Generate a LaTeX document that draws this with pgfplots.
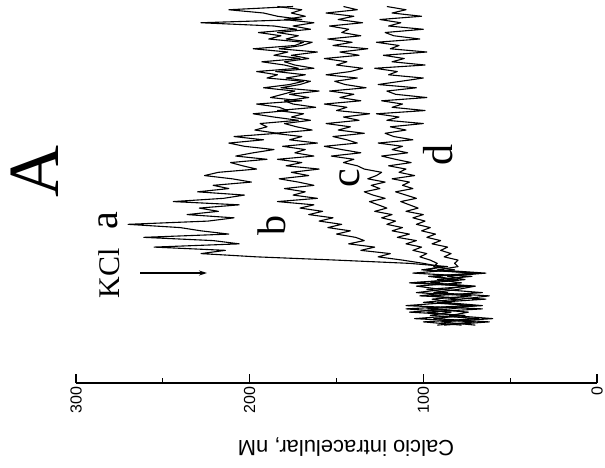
\documentclass[border=0pt]{standalone}
\usepackage{fontspec}
\setmainfont{Liberation Serif}
\setsansfont{Liberation Sans}
\usepackage{pgfplots}
\usepackage{pgfplotstable}
\pgfplotsset{compat=1.18}
\usetikzlibrary{arrows.meta}

\pgfplotstableread{
t a b c d
0 92 78 88 70
1 70 100 62 90
2 105 68 94 60
3 80 96 76 84
4 98 84 108 74
5 66 110 84 98
6 110 74 70 66
7 84 92 100 88
8 95 64 80 78
9 72 102 96 62
10 104 86 66 94
11 88 98 90 80
12 76 72 104 70
13 108 106 78 96
14 82 80 92 76
15 97 94 72 86
16 70 68 106 64
17 101 99 82 92
18 86 90 94 80
19 108 100 92 82
20 150 112 96 80
21 196 126 102 88
22 228 119 98 84
23 214 136 106 90
24 255 128 101 86
25 206 143 110 95
26 221 134 104 90
27 261 139 115 98
28 212 150 108 93
29 228 142 118 101
30 240 155 112 96
31 270 147 121 104
32 224 160 116 99
33 209 152 124 106
34 236 166 118 100
35 218 158 128 110
36 229 171 121 103
37 206 163 126 108
38 244 184 131 113
39 215 161 122 104
40 203 175 129 110
41 230 168 134 116
42 212 180 125 106
43 221 163 130 112
44 199 172 122 108
45 210 183 132 118
46 226 166 127 105
47 218 176 124 114
48 196 160 134 110
49 204 179 138 120
50 211 170 146 107
51 190 184 140 116
52 208 163 153 124
53 198 174 136 109
54 186 168 147 118
55 203 181 157 112
56 212 161 138 126
57 192 177 144 106
58 209 170 152 117
59 184 186 134 122
60 197 164 149 110
61 190 173 142 119
62 194 180 156 100
63 172 165 137 121
64 186 176 146 114
65 198 169 131 127
66 178 184 150 99
67 183 162 144 118
68 196 175 157 112
69 170 180 136 124
70 188 166 148 98
71 181 177 140 116
72 174 160 154 121
73 192 182 133 104
74 177 171 145 126
75 169 165 151 113
76 190 179 138 100
77 184 168 156 120
78 196 185 142 115
79 172 163 135 128
80 180 174 150 99
81 193 180 144 118
82 171 166 157 111
83 186 176 137 123
84 178 161 148 98
85 198 183 132 119
86 174 170 152 114
87 169 164 141 127
88 189 179 155 102
89 182 172 136 117
90 195 184 147 122
91 173 165 143 100
92 186 175 154 120
93 228 163 135 113
94 170 180 149 125
95 184 168 140 101
96 192 176 156 118
97 212 170 138 110
98 175 184 146 121
}\data

\begin{document}
\begin{tikzpicture}
\useasboundingbox (0,0) rectangle (605pt,467pt);
\begin{axis}[
  at={(76pt,84pt)}, anchor=south west,
  scale only axis, width=521pt, height=383pt,
  xmin=0, xmax=300, x dir=reverse,
  ymin=-17.8, ymax=100,
  axis x line*=bottom, axis y line=none,
  xtick={0,100,200,300}, minor xtick={50,150,250},
  xtick align=inside,
  major tick length=9pt, minor tick length=5pt,
  xticklabel style={rotate=90, anchor=east, font=\sffamily\fontsize{16}{16}\selectfont},
  /pgf/number format/assume math mode=true,
  axis line style={line width=1.1pt},
  every tick/.style={line width=1.1pt, black},
  clip=false,
]
\addplot[black, line width=1.1pt, line join=round] table[x=d, y=t] {\data};
\addplot[black, line width=1.1pt, line join=round] table[x=c, y=t] {\data};
\addplot[black, line width=1.1pt, line join=round] table[x=b, y=t] {\data};
\addplot[black, line width=1.1pt, line join=round] table[x=a, y=t] {\data};
\end{axis}
% annotations (image px -> pt, y flipped)
\node[rotate=180, font=\sffamily\fontsize{22}{22}\selectfont] at (346pt,20pt) {Calcio intracelular, nM};
\node[rotate=90, font=\fontsize{72}{72}\selectfont, inner sep=0pt] at (35pt,295pt) {A};
\node[rotate=90, font=\fontsize{30}{30}\selectfont] at (109pt,194pt) {KCl};
\node[rotate=90, font=\fontsize{40}{40}\selectfont] at (108pt,246pt) {a};
\node[rotate=90, font=\fontsize{40}{40}\selectfont] at (272pt,242pt) {b};
\node[rotate=90, font=\fontsize{42}{42}\selectfont] at (350pt,289pt) {c};
\node[rotate=90, font=\fontsize{42}{42}\selectfont] at (438pt,312pt) {d};
\draw[line width=1.2pt, -{Stealth[length=8pt,width=5pt]}] (140pt,194pt) -- (207pt,194pt);
\end{tikzpicture}
\end{document}
